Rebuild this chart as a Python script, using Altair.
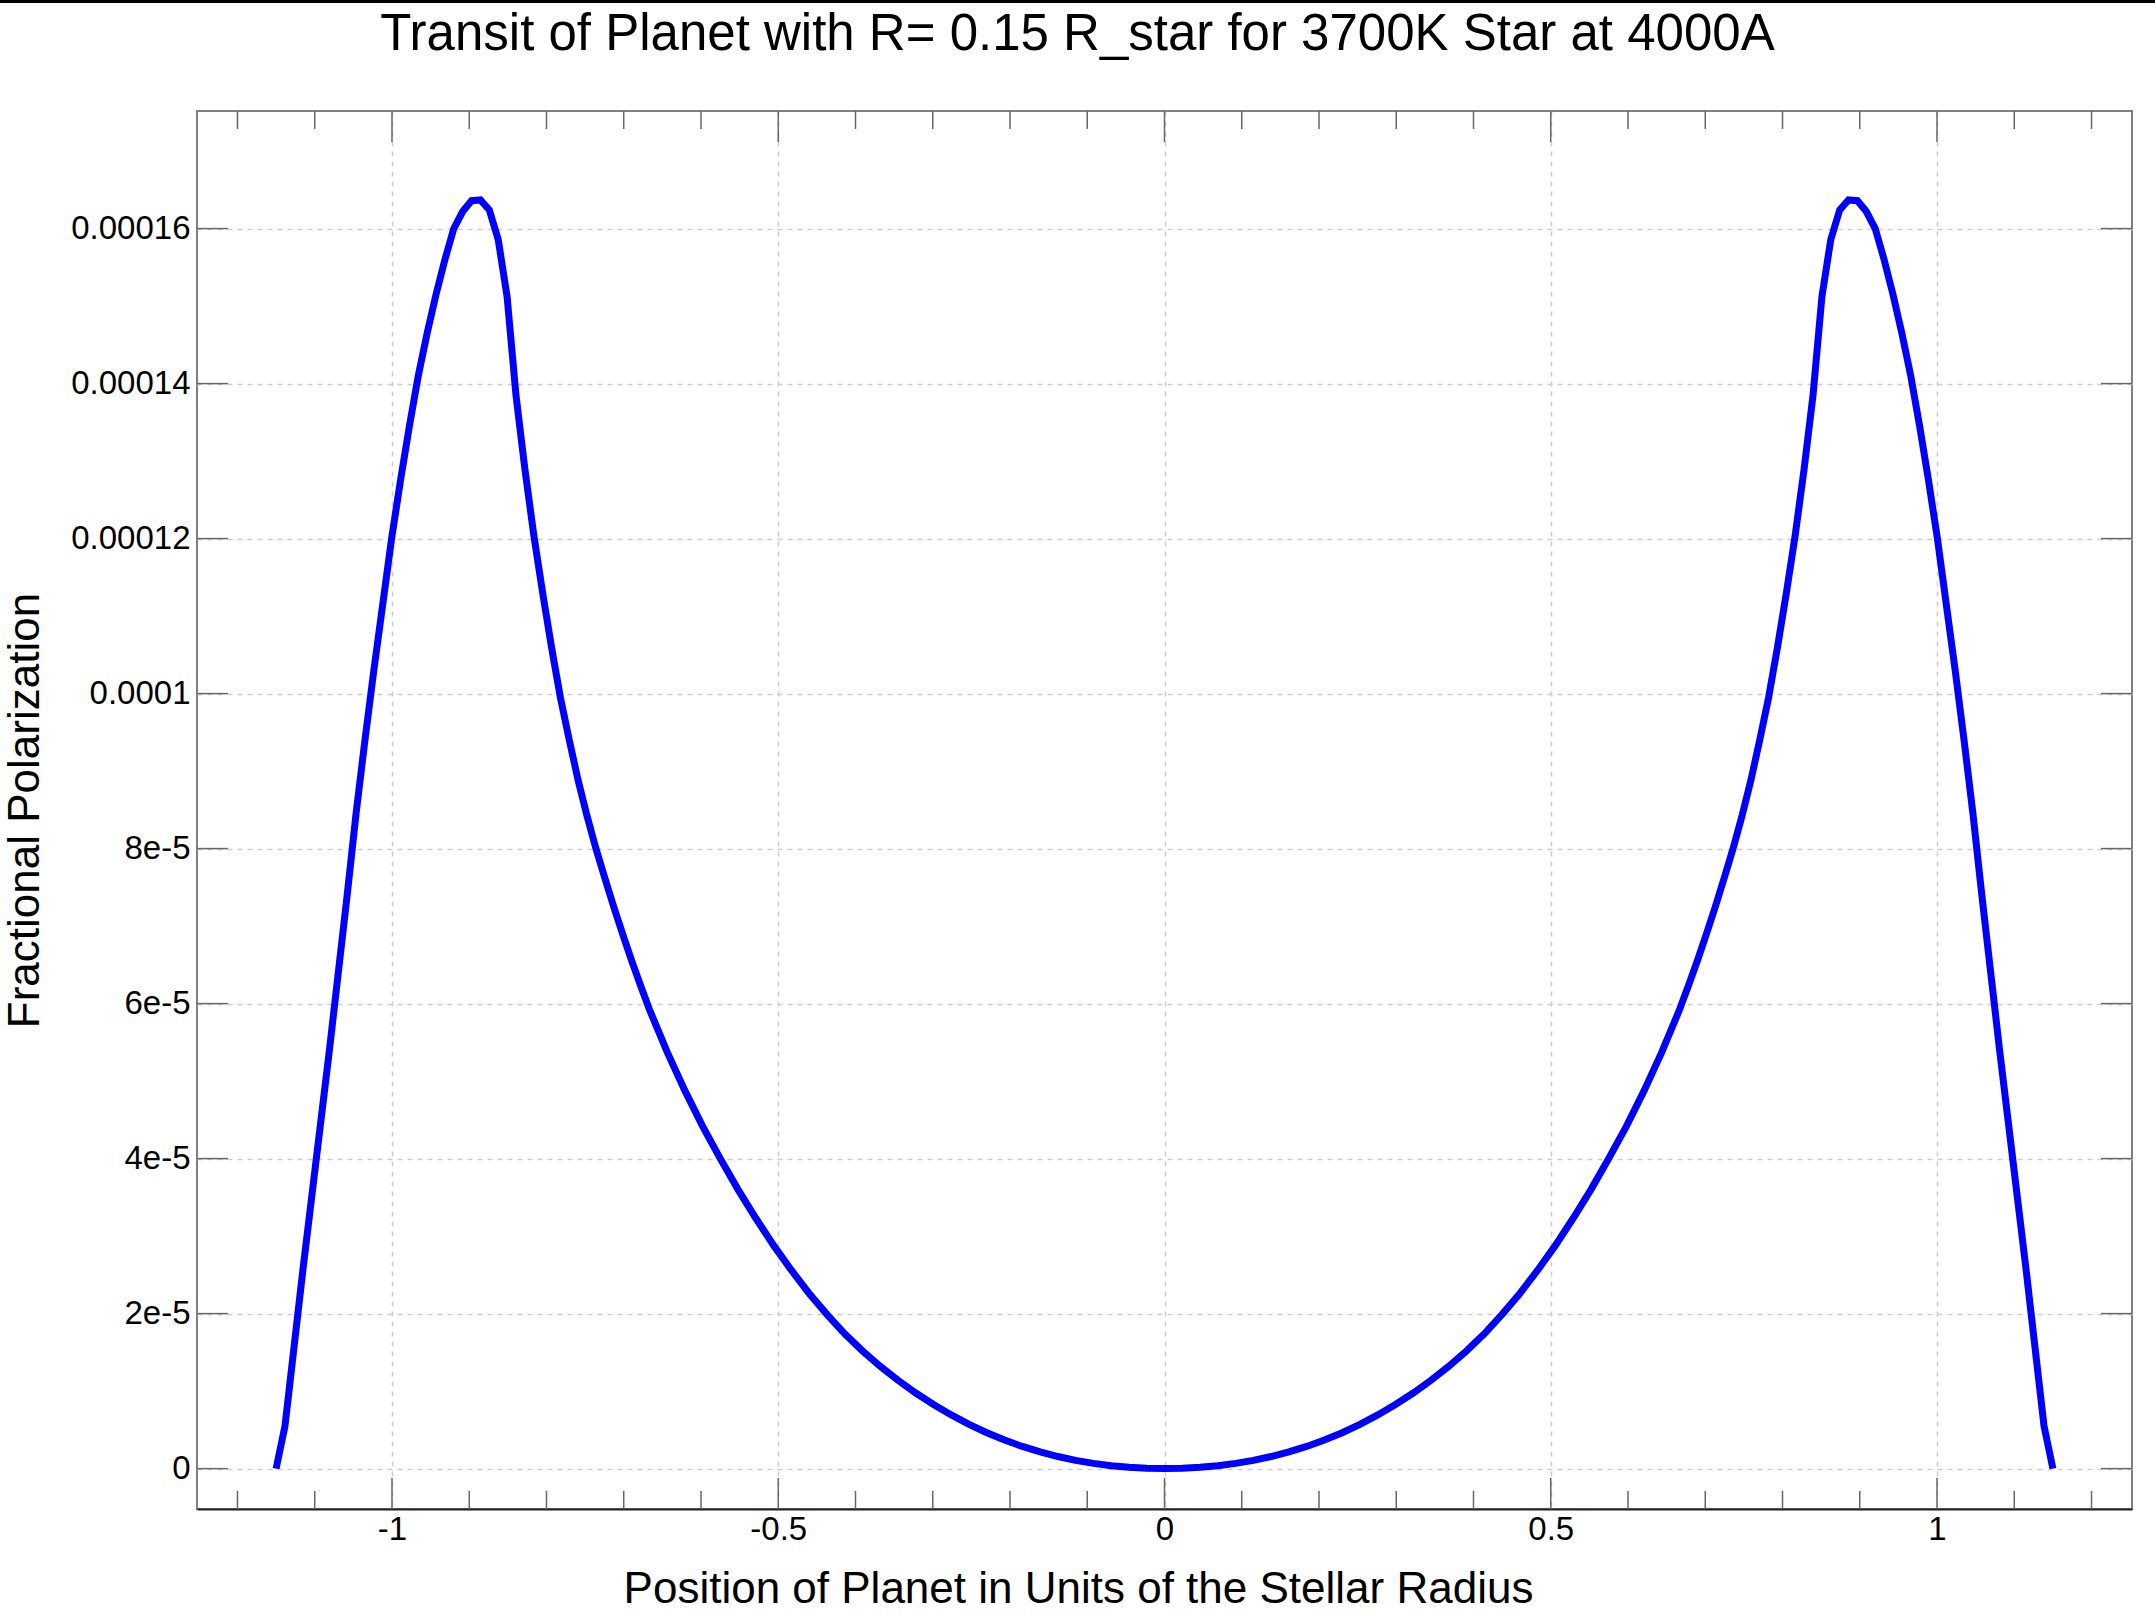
import altair as alt
import pandas as pd

TITLE = "Transit of Planet with R= 0.15 R_star for 3700K Star at 4000A"
X_TITLE = "Position of Planet in Units of the Stellar Radius"
Y_TITLE = "Fractional Polarization"

# Curve (y in units of 1e-5)
x_left = [-1.15, -1.1385, -1.127, -1.1155, -1.104, -1.0925, -1.081, -1.0695, -1.058, -1.0465,
          -1.035, -1.0235, -1.012, -1.0005, -0.989, -0.9775, -0.966, -0.9545, -0.943, -0.9315,
          -0.92, -0.9085, -0.897, -0.8855, -0.874, -0.8625, -0.851, -0.8395, -0.828, -0.8165,
          -0.805, -0.7935, -0.782, -0.7705, -0.759, -0.7475, -0.736, -0.7245, -0.713, -0.7015,
          -0.69, -0.6785, -0.667, -0.644, -0.621, -0.598, -0.575, -0.552, -0.529, -0.506,
          -0.483, -0.46, -0.437, -0.414, -0.391, -0.368, -0.345, -0.322, -0.299, -0.276,
          -0.253, -0.23, -0.207, -0.184, -0.161, -0.138, -0.115, -0.092, -0.069, -0.046,
          -0.023, 0.0]
y_left_e5 = [0, 0.55, 1.55, 2.55, 3.5, 4.45, 5.4, 6.4, 7.4, 8.45,
             9.4, 10.3, 11.15, 12.0, 12.75, 13.45, 14.1, 14.65, 15.15, 15.6,
             16.0, 16.22, 16.36, 16.37, 16.24, 15.86, 15.12, 13.85, 12.9, 12.05,
             11.3, 10.6, 9.95, 9.4, 8.88, 8.42, 8.0, 7.62, 7.25, 6.9,
             6.56, 6.24, 5.93, 5.38, 4.88, 4.42, 4.0, 3.6, 3.23, 2.88,
             2.56, 2.26, 1.99, 1.74, 1.52, 1.32, 1.14, 0.975, 0.827, 0.693,
             0.570, 0.463, 0.368, 0.286, 0.215, 0.156, 0.107, 0.068, 0.038, 0.017,
             0.004, 0.0]
x_right = [0.023, 0.046, 0.069, 0.092, 0.115, 0.138, 0.161, 0.184, 0.207, 0.23,
           0.253, 0.276, 0.299, 0.322, 0.345, 0.368, 0.391, 0.414, 0.437, 0.46,
           0.483, 0.506, 0.529, 0.552, 0.575, 0.598, 0.621, 0.644, 0.667, 0.6785,
           0.69, 0.7015, 0.713, 0.7245, 0.736, 0.7475, 0.759, 0.7705, 0.782, 0.7935,
           0.805, 0.8165, 0.828, 0.8395, 0.851, 0.8625, 0.874, 0.8855, 0.897, 0.9085,
           0.92, 0.9315, 0.943, 0.9545, 0.966, 0.9775, 0.989, 1.0005, 1.012, 1.0235,
           1.035, 1.0465, 1.058, 1.0695, 1.081, 1.0925, 1.104, 1.1155, 1.127, 1.1385,
           1.15]
y_right_e5 = [0.004, 0.017, 0.038, 0.068, 0.107, 0.156, 0.215, 0.286, 0.368, 0.463,
              0.570, 0.693, 0.827, 0.975, 1.14, 1.32, 1.52, 1.74, 1.99, 2.26,
              2.56, 2.88, 3.23, 3.6, 4.0, 4.42, 4.88, 5.38, 5.93, 6.24,
              6.56, 6.9, 7.25, 7.62, 8.0, 8.42, 8.88, 9.4, 9.95, 10.6,
              11.3, 12.05, 12.9, 13.85, 15.12, 15.86, 16.24, 16.37, 16.36, 16.22,
              16.0, 15.6, 15.15, 14.65, 14.1, 13.45, 12.75, 12.0, 11.15, 10.3,
              9.4, 8.45, 7.4, 6.4, 5.4, 4.45, 3.5, 2.55, 1.55, 0.55,
              0]

x_major = [-1, -0.5, 0, 0.5, 1]
x_minor = [-1.2, -1.1, -0.9, -0.8, -0.7, -0.6, -0.4, -0.3, -0.2, -0.1,
           0.1, 0.2, 0.3, 0.4, 0.6, 0.7, 0.8, 0.9, 1.1, 1.2]
y_major = [0, 0.00002, 0.00004, 0.00006, 0.00008, 0.0001, 0.00012, 0.00014, 0.00016]
y_labels = ["0", "2e-5", "4e-5", "6e-5", "8e-5", "0.0001", "0.00012", "0.00014", "0.00016"]

W, H = 1935, 1398
PAD_L, PAD_T = 197, 111
FONT = "Liberation Sans"
MAJ, MIN = 31, 18
TICK_COLOR = "#666666"

xs = x_left + x_right
ys = [v * 1e-5 for v in (y_left_e5 + y_right_e5)]
df = pd.DataFrame({"x": xs, "y": ys, "i": list(range(len(xs)))})

xscale = alt.Scale(domain=[-1.2524, 1.2524], nice=False, zero=False)
yscale = alt.Scale(domain=[-5.21e-6, 1.7517e-4], nice=False, zero=False)

label_arr = "[" + ",".join("'" + s + "'" for s in y_labels) + "]"

x_axis = alt.Axis(
    values=x_major, labelExpr="datum.value + ''",
    grid=True, gridColor="#cccccc", gridDash=[5, 5], gridWidth=1.5,
    ticks=False, tickSize=0,
    domain=True, domainColor="#222222", domainWidth=2,
    labelFont=FONT, labelFontSize=33, labelColor="black", labelPadding=4,
    title=X_TITLE, titleFont=FONT, titleFontSize=44, titleFontWeight="normal",
    titleColor="black", titleX=881, titleY=93, titleAlign="center",
    titleBaseline="alphabetic",
)
y_axis = alt.Axis(
    values=y_major, labelExpr=label_arr + "[round(datum.value/0.00002)]",
    grid=True, gridColor="#cccccc", gridDash=[5, 5], gridWidth=1.5,
    ticks=False, tickSize=0, domain=False,
    labelFont=FONT, labelFontSize=33, labelColor="black", labelPadding=7,
    title=Y_TITLE, titleFont=FONT, titleFontSize=44, titleFontWeight="normal",
    titleColor="black", titleX=-159, titleY=H / 2, titleAngle=270,
    titleAlign="center", titleBaseline="alphabetic",
)

line = alt.Chart(df).mark_line(color="#0000ff", strokeWidth=7, clip=True).encode(
    x=alt.X("x:Q", scale=xscale, axis=x_axis),
    y=alt.Y("y:Q", scale=yscale, axis=y_axis),
    order="i:Q",
)

xmaj_df = pd.DataFrame({"x": x_major})
xmin_df = pd.DataFrame({"x": x_minor})
ymaj_df = pd.DataFrame({"y": y_major})


def xticks(data, y0, y1):
    return alt.Chart(data).mark_rule(color=TICK_COLOR, strokeWidth=1.5).encode(
        x=alt.X("x:Q", scale=xscale, axis=x_axis),
        y=alt.value(y0), y2=alt.value(y1),
    )


def yticks(x0, x1):
    return alt.Chart(ymaj_df).mark_rule(color=TICK_COLOR, strokeWidth=1.5).encode(
        y=alt.Y("y:Q", scale=yscale, axis=y_axis),
        x=alt.value(x0), x2=alt.value(x1),
    )


# thin black band along the very top edge of the picture
top_band = alt.Chart(pd.DataFrame({"k": [0]})).mark_rule(
    color="black", strokeWidth=3
).encode(
    x=alt.value(-PAD_L), x2=alt.value(2155 - PAD_L), y=alt.value(-PAD_T + 1.5)
)

layers = [
    line,
    xticks(xmaj_df, H, H - MAJ), xticks(xmaj_df, 0, MAJ),
    xticks(xmin_df, H, H - MIN), xticks(xmin_df, 0, MIN),
    yticks(0, MAJ), yticks(W, W - MAJ),
    top_band,
]

chart = alt.layer(*layers).properties(
    width=W, height=H,
    padding={"left": PAD_L, "top": PAD_T, "right": 23, "bottom": 110},
    autosize=alt.AutoSizeParams(type="none"),
    title=alt.TitleParams(
        text=TITLE, font=FONT, fontSize=51, fontWeight="normal", color="black",
        anchor="middle", frame="group", dx=-87, offset=-101, baseline="alphabetic",
    ),
    background="white",
).configure_view(stroke="#808080", strokeWidth=2)

chart.save("out.html", embed_options={"renderer": "svg", "actions": False})
